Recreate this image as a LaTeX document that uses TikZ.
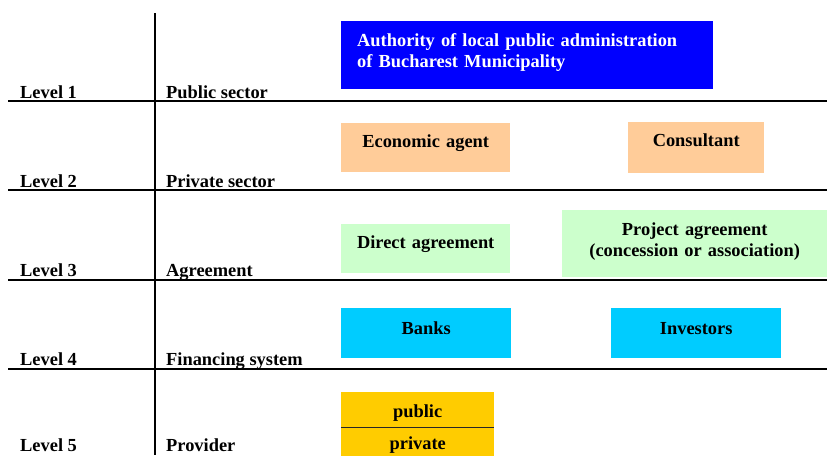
\documentclass[tikz,border=0pt]{standalone}
\usepackage{fontspec}
\setmainfont{Liberation Serif}
\definecolor{authblue}{HTML}{0000FF}
\definecolor{peach}{HTML}{FFCC99}
\definecolor{mint}{HTML}{CCFFCC}
\definecolor{sky}{HTML}{00CCFF}
\definecolor{gold}{HTML}{FFCC00}

\begin{document}
\begin{tikzpicture}[x=1pt, y=-1pt, font=\bfseries\fontsize{18.4}{21}\selectfont,
    rule/.style={line width=1.6pt, black},
    box/.style={anchor=north west, inner xsep=0pt, inner ysep=0pt, align=center}]
  \useasboundingbox (0,0) rectangle (827,455);
  % grid of levels
  \draw[rule] (155,13) -- (155,455);
  \foreach \y in {101,190,280,369}\draw[rule] (8,\y) -- (827,\y);
  \foreach \y/\lev/\sec in {98/1/Public sector,187/2/Private sector,276/3/Agreement,365/4/Financing system,451/5/Provider}{
    \node[anchor=base west, inner sep=0pt] (lev\lev) at (20,\y) {Level \lev};
    \node[anchor=base west, inner sep=0pt] (sec\lev) at (166,\y) {\sec};}
  % level 1
  \node[box, fill=authblue, text=white, align=left, inner xsep=16pt, text width=340pt, text height=25pt, text depth=43pt] (auth) at (341,21) {Authority of local public administration\\of Bucharest Municipality};
  % level 2
  \node[box, fill=peach, text width=169pt, text height=24pt, text depth=25pt] (agent) at (341,123) {Economic agent};
  \node[box, fill=peach, text width=136pt, text height=24pt, text depth=27pt] (consult) at (628,122) {Consultant};
  % level 3
  \node[box, fill=mint, text width=169pt, text height=24pt, text depth=25pt] (direct) at (341,224) {Direct agreement};
  \node[box, fill=mint, text width=265pt, text height=25pt, text depth=42pt] (project) at (562,210) {Project agreement\\(concession or association)};
  % level 4
  \node[box, fill=sky, text width=170pt, text height=26pt, text depth=24pt] (banks) at (341,308) {Banks};
  \node[box, fill=sky, text width=170pt, text height=26pt, text depth=24pt] (invest) at (611,308) {Investors};
  % level 5
  \node[box, fill=gold, text width=153pt, text height=25pt, text depth=10pt] (pub) at (341,392) {public};
  \node[box, fill=gold, text width=153pt, text height=22pt, text depth=21pt] (priv) at (pub.south west) {private};
  \draw[line width=1.2pt, black!85] (pub.south west) -- (pub.south east);
\end{tikzpicture}
\end{document}
